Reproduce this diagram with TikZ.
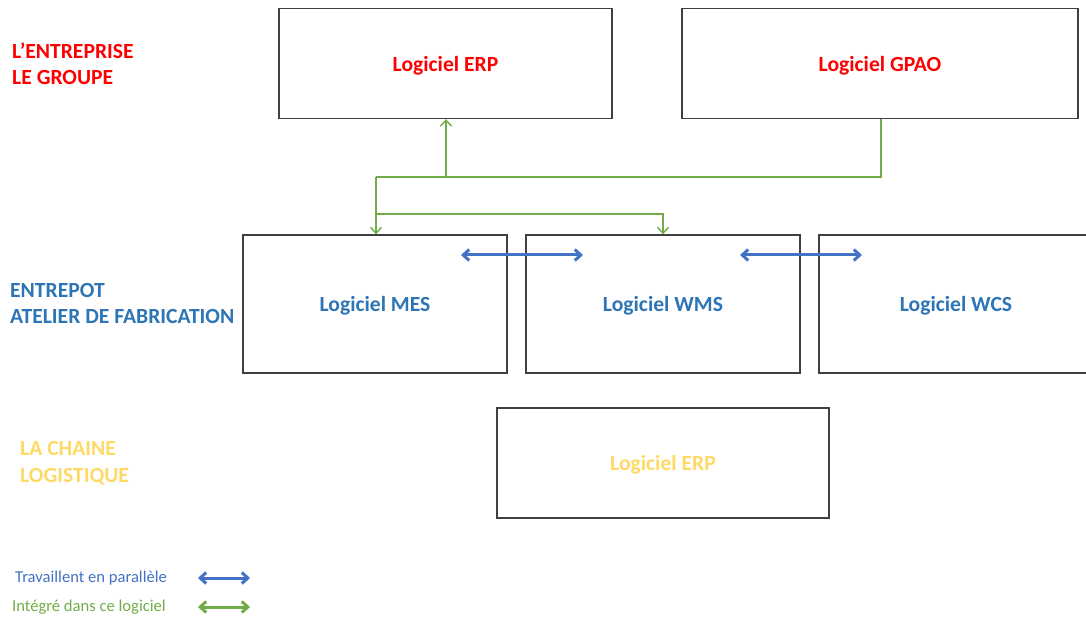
\documentclass[tikz,border=0pt]{standalone}
\usepackage{fontspec}
\setmainfont{Carlito}
\usetikzlibrary{arrows.meta}
\definecolor{redtxt}{HTML}{FF0000}
\definecolor{bluetxt}{HTML}{2E75B6}
\definecolor{yellowtxt}{HTML}{FFD966}
\definecolor{linkgreen}{HTML}{70AD47}
\definecolor{linkblue}{HTML}{4472C4}
\definecolor{boxline}{HTML}{404040}
\tikzset{
  softbox/.style={draw=boxline, line width=1.3pt, rectangle, fill=white,
    font=\fontsize{21.6}{24}\selectfont\bfseries, inner sep=0pt, text depth=0pt},
  levellabel/.style={anchor=west, align=left, inner sep=0pt,
    font=\fontsize{21.6}{26.5}\selectfont\bfseries},
  legendtext/.style={anchor=west, inner sep=0pt, font=\fontsize{16.6}{19}\selectfont},
  integ/.style={draw=linkgreen, line width=1.4pt},
  integarrow/.style={integ, -{Straight Barb[length=6pt,width=11pt,line width=1.4pt]}},
  parallel/.style={draw=linkblue, line width=3pt,
    {Straight Barb[length=6pt,width=11pt,line width=3pt]}-{Straight Barb[length=6pt,width=11pt,line width=3pt]}},
  parallelgreen/.style={draw=linkgreen, line width=3pt,
    {Straight Barb[length=6pt,width=11pt,line width=3pt]}-{Straight Barb[length=6pt,width=11pt,line width=3pt]}},
}
\begin{document}
\begin{tikzpicture}[x=1pt, y=-1pt]
\useasboundingbox (0,0) rectangle (1086,617);

% level headings
\node[levellabel, text=redtxt] (lvlA) at (12,63.5) {L’ENTREPRISE\\LE GROUPE};
\node[levellabel, text=bluetxt] (lvlB) at (10,303.5) {ENTREPOT\\ATELIER DE FABRICATION};
\node[levellabel, text=yellowtxt] (lvlC) at (20,463.5) {LA CHAINE\\LOGISTIQUE};

% software boxes
\node[softbox, text=redtxt, minimum width=333pt, minimum height=110pt] (erp) at (445.5,63.5) {Logiciel ERP};
\node[softbox, text=redtxt, minimum width=396pt, minimum height=110pt] (gpao) at (880,63.5) {Logiciel GPAO};
\node[softbox, text=bluetxt, minimum width=264pt, minimum height=138pt] (mes) at (375,304) {Logiciel MES};
\node[softbox, text=bluetxt, minimum width=274pt, minimum height=138pt] (wms) at (663,304) {Logiciel WMS};
\node[softbox, text=bluetxt, minimum width=274pt, minimum height=138pt] (wcs) at (956,304) {Logiciel WCS};
\node[softbox, text=yellowtxt, minimum width=332pt, minimum height=110pt] (erpb) at (663,463) {Logiciel ERP};

% integration links
\coordinate (busA) at (376,177);
\coordinate (busB) at (376,214);
\draw[integ] (gpao.south -| 881,0) |- (busA);
\draw[integarrow] (busA) -- (busA |- mes.north);
\draw[integarrow] (busA -| 446,0) -- (446,0 |- erp.south);
\draw[integarrow] (busB) -| (663,0 |- wms.north);

% parallel links
\coordinate (p1a) at (461,255);
\coordinate (p1b) at (583,255);
\coordinate (p2a) at (740,255);
\coordinate (p2b) at (862,255);
\draw[parallel] (p1a) -- (p1b);
\draw[parallel] (p2a) -- (p2b);

% legend
\node[legendtext, text=linkblue] (legA) at (15,578) {Travaillent en parallèle};
\node[legendtext, text=linkgreen] (legB) at (12,607) {Intégré dans ce logiciel};
\coordinate (lA1) at (198,578);
\coordinate (lA2) at (250,578);
\coordinate (lB1) at (198,607);
\coordinate (lB2) at (250,607);
\draw[parallel] (lA1) -- (lA2);
\draw[parallelgreen] (lB1) -- (lB2);
\end{tikzpicture}
\end{document}
